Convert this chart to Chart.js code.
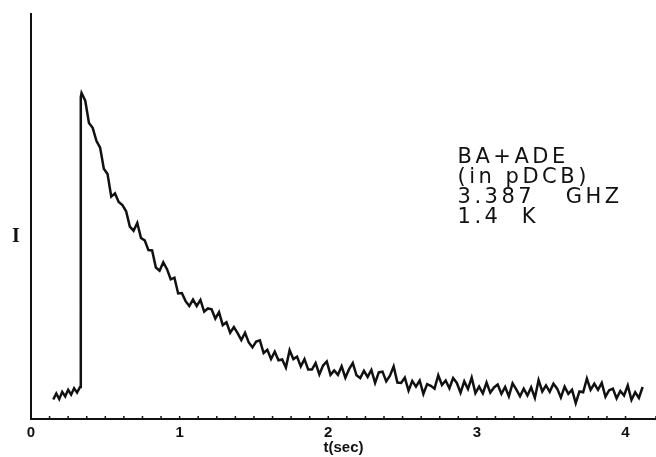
<!DOCTYPE html>
<html>
<head>
<meta charset="utf-8">
<script src="https://cdn.jsdelivr.net/npm/chart.js@4"></script>
<style>
  body { margin: 0; background: #fff; }
</style>
</head>
<body>
<canvas id="chart" width="656" height="457"></canvas>
<script>
// trace before the pulse (t in seconds, intensity in arbitrary units, axis = 0..100)
const preTimes = [0.15, 0.17, 0.19, 0.21, 0.23, 0.25, 0.27, 0.29, 0.31, 0.33, 0.335];
const preIntensity = [4.8, 6.3, 4.9, 6.7, 5.6, 7.2, 6.0, 7.6, 6.5, 7.9, 79.5];

// decay after the pulse
const decayTimes = [
    0.340, 0.365, 0.390, 0.415, 0.440, 0.465, 0.490, 0.515, 0.540, 0.565,
    0.590, 0.615, 0.640, 0.665, 0.690, 0.715, 0.740, 0.765, 0.790, 0.815,
    0.840, 0.865, 0.890, 0.915, 0.940, 0.965, 0.990, 1.015, 1.040, 1.065,
    1.090, 1.115, 1.140, 1.165, 1.190, 1.215, 1.240, 1.265, 1.290, 1.315,
    1.340, 1.365, 1.390, 1.415, 1.440, 1.465, 1.490, 1.515, 1.540, 1.565,
    1.590, 1.615, 1.640, 1.665, 1.690, 1.715, 1.740, 1.765, 1.790, 1.815,
    1.840, 1.865, 1.890, 1.915, 1.940, 1.965, 1.990, 2.015, 2.040, 2.065,
    2.090, 2.115, 2.140, 2.165, 2.190, 2.215, 2.240, 2.265, 2.290, 2.315,
    2.340, 2.365, 2.390, 2.415, 2.440, 2.465, 2.490, 2.515, 2.540, 2.565,
    2.590, 2.615, 2.640, 2.665, 2.690, 2.715, 2.740, 2.765, 2.790, 2.815,
    2.840, 2.865, 2.890, 2.915, 2.940, 2.965, 2.990, 3.015, 3.040, 3.065,
    3.090, 3.115, 3.140, 3.165, 3.190, 3.215, 3.240, 3.265, 3.290, 3.315,
    3.340, 3.365, 3.390, 3.415, 3.440, 3.465, 3.490, 3.515, 3.540, 3.565,
    3.590, 3.615, 3.640, 3.665, 3.690, 3.715, 3.740, 3.765, 3.790, 3.815,
    3.840, 3.865, 3.890, 3.915, 3.940, 3.965, 3.990, 4.015, 4.040, 4.065,
    4.090, 4.115
];
const decayIntensity = [
    80.5, 78.6, 73.1, 71.9, 68.7, 67.0, 61.8, 60.5, 54.9, 55.7,
    53.6, 52.8, 51.3, 47.5, 46.5, 48.4, 44.7, 44.1, 41.7, 41.6,
    37.4, 36.6, 38.7, 37.0, 34.5, 34.9, 31.0, 31.1, 29.1, 27.9,
    29.5, 27.9, 29.4, 26.5, 27.3, 27.1, 24.8, 26.4, 23.2, 23.9,
    21.3, 22.7, 21.2, 19.5, 21.3, 18.9, 17.7, 19.1, 19.4, 16.3,
    17.1, 14.8, 16.6, 14.5, 14.7, 12.7, 17.0, 14.8, 15.4, 13.0,
    14.8, 12.2, 12.2, 13.8, 11.0, 13.2, 14.2, 10.9, 12.0, 10.9,
    13.0, 10.2, 12.3, 13.8, 10.8, 10.1, 11.9, 10.4, 12.1, 8.9,
    11.5, 11.7, 9.3, 10.7, 13.0, 9.0, 8.9, 10.2, 7.0, 9.4,
    8.0, 9.5, 6.2, 8.6, 8.2, 7.5, 10.8, 8.4, 9.5, 7.6,
    10.1, 8.9, 6.5, 9.3, 7.4, 10.2, 6.4, 8.0, 6.3, 9.0,
    6.5, 7.8, 8.5, 6.2, 7.9, 5.6, 8.8, 7.3, 5.6, 7.5,
    5.8, 7.8, 5.2, 9.6, 6.8, 8.3, 6.7, 8.7, 7.5, 5.3,
    8.0, 6.2, 7.2, 3.9, 6.8, 6.6, 10.0, 7.2, 8.7, 7.2,
    8.9, 5.5, 7.1, 7.5, 5.1, 6.9, 5.8, 8.3, 4.7, 6.6,
    5.2, 7.9
];

const xTickLabels = [0, 1, 2, 3, 4];
const noteLines = ['BA+ADE', '(in pDCB)', '3.387   GHZ', '1.4  K'];
const yLabel = 'I';
const xLabel = 't(sec)';

const times = preTimes.concat(decayTimes);
const intensity = preIntensity.concat(decayIntensity);
const points = times.map((t, i) => ({ x: t, y: intensity[i] }));

// small inward tick marks, the "I" label and the text block
const decorations = {
    id: 'decorations',
    afterDraw(chart) {
        const ctx = chart.ctx;
        const xs = chart.scales.x;
        const ys = chart.scales.y;
        const bottom = chart.chartArea.bottom;
        ctx.save();
        ctx.strokeStyle = '#111';
        ctx.lineWidth = 1.5;
        xs.ticks.forEach(tick => {
            const px = xs.getPixelForValue(tick.value);
            ctx.beginPath();
            ctx.moveTo(px, bottom);
            ctx.lineTo(px, bottom - 3);
            ctx.stroke();
        });

        ctx.fillStyle = '#111';
        ctx.font = 'bold 20px "Liberation Serif"';
        ctx.textAlign = 'center';
        ctx.textBaseline = 'middle';
        ctx.fillText(yLabel, 16, ys.getPixelForValue(45));

        ctx.font = '21px "DejaVu Sans"';
        ctx.letterSpacing = '3.5px';
        ctx.textAlign = 'left';
        ctx.textBaseline = 'alphabetic';
        const left = xs.getPixelForValue(2.87);
        const top = ys.getPixelForValue(63.2);
        noteLines.forEach((line, i) => {
            ctx.fillText(line, left, top + i * 20);
        });
        ctx.restore();
    }
};

new Chart(document.getElementById('chart'), {
    type: 'line',
    data: {
        datasets: [{
            data: points,
            borderColor: '#111',
            borderWidth: 2.5,
            pointRadius: 0,
            tension: 0
        }]
    },
    options: {
        responsive: false,
        animation: false,
        layout: { autoPadding: false, padding: { left: 31, top: 14, right: 0, bottom: 0 } },
        plugins: {
            legend: { display: false },
            tooltip: { enabled: false }
        },
        scales: {
            x: {
                type: 'linear',
                min: 0,
                max: 4.205,
                grid: { display: false, drawTicks: true, tickLength: 6 },
                border: { display: true, color: '#111', width: 2 },
                ticks: {
                    stepSize: 0.125,
                    autoSkip: false,
                    maxRotation: 0,
                    padding: 0,
                    color: '#111',
                    font: { family: 'Liberation Sans', size: 15, weight: 'bold', lineHeight: 1 },
                    callback: v => (xTickLabels.includes(v) ? String(v) : '')
                },
                title: {
                    display: true,
                    text: xLabel,
                    color: '#111',
                    padding: { top: -1, bottom: 0 },
                    font: { family: 'Liberation Sans', size: 15, weight: 'bold', lineHeight: 1.2 }
                }
            },
            y: {
                min: 0,
                max: 100,
                grid: { display: false, drawTicks: false },
                border: { display: true, color: '#111', width: 2 },
                ticks: { display: false }
            }
        }
    },
    plugins: [decorations]
});
</script>
</body>
</html>
